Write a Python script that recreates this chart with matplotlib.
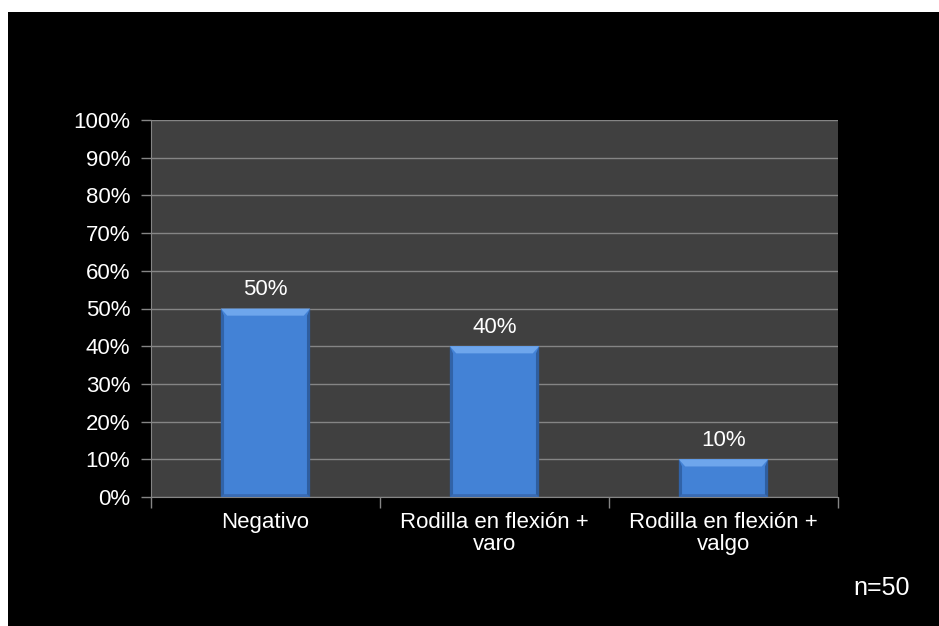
import numpy as np
import matplotlib.pyplot as plt
from matplotlib.patches import Rectangle, Polygon

plt.rcParams['font.family'] = ['Liberation Sans', 'DejaVu Sans']

categories = ["Negativo", "Rodilla en flexión +\nvaro", "Rodilla en flexión +\nvalgo"]
values = [50, 40, 10]
yticks = list(range(0, 101, 10))
note = "n=50"

fig = plt.figure(figsize=(9.39, 6.26), dpi=100)
fig.patch.set_facecolor("white")
# black slide background, kept behind the axes
fig.patches.append(Rectangle((8 / 939, 0), 931 / 939, 614 / 626,
                             transform=fig.transFigure, facecolor="black",
                             edgecolor="none", zorder=-1))

ax = fig.add_axes([151 / 939, 129 / 626, 687 / 939, 377 / 626])
ax.set_facecolor("#404040")
ax.set_ylim(0, 100)
ax.set_xlim(-0.5, len(categories) - 0.5)

x = np.arange(len(categories))
width = 0.39
bars = ax.bar(x, values, width, color="#4382d6", edgecolor="none", zorder=3)

# bevelled look: light top face, darker sides and base
bx, by = 0.028, 1.9
for b in bars:
    x0, x1 = b.get_x(), b.get_x() + b.get_width()
    top = b.get_height()
    faces = [
        ([(x0, top), (x1, top), (x1 - bx, top - by), (x0 + bx, top - by)], "#6ea6ec"),
        ([(x0, 0), (x0, top), (x0 + bx * 0.5, top - by), (x0 + bx * 0.5, 0)], "#3163a8"),
        ([(x1, 0), (x1, top), (x1 - bx * 0.5, top - by), (x1 - bx * 0.5, 0)], "#2f5e9f"),
        ([(x0, 0), (x1, 0), (x1 - bx * 0.5, by * 0.4), (x0 + bx * 0.5, by * 0.4)], "#3a6cb4"),
    ]
    for pts, c in faces:
        ax.add_patch(Polygon(pts, closed=True, facecolor=c, edgecolor="none",
                             zorder=4))

for xi, v in zip(x, values):
    ax.annotate(f"{v}%", (xi, v), xytext=(0, 6), textcoords="offset points",
                ha="center", va="bottom", color="white", fontsize=16)

ax.set_yticks(yticks)
ax.set_yticklabels([f"{t}%" for t in yticks])
ax.yaxis.grid(True, color="#858585", linewidth=1)
ax.set_axisbelow(True)

ax.set_xticks(x)
ax.set_xticklabels(categories, linespacing=1.05)
ax.set_xticks(np.arange(-0.5, len(categories)), minor=True)
ax.tick_params(axis="x", which="major", length=0, pad=11, colors="white",
               labelsize=16)
ax.tick_params(axis="x", which="minor", length=8, color="#858585", width=1)
ax.tick_params(axis="y", length=7, width=1, colors="white",
               labelsize=16, pad=8)
ax.tick_params(axis="y", color="#858585")

for side in ("top", "right"):
    ax.spines[side].set_visible(False)
for side in ("left", "bottom"):
    ax.spines[side].set_color("#858585")

fig.text(882 / 939, 1 - 588 / 626, note, color="white", fontsize=18,
         ha="center", va="center")

fig.savefig("out.png", dpi=100, facecolor=fig.get_facecolor())
